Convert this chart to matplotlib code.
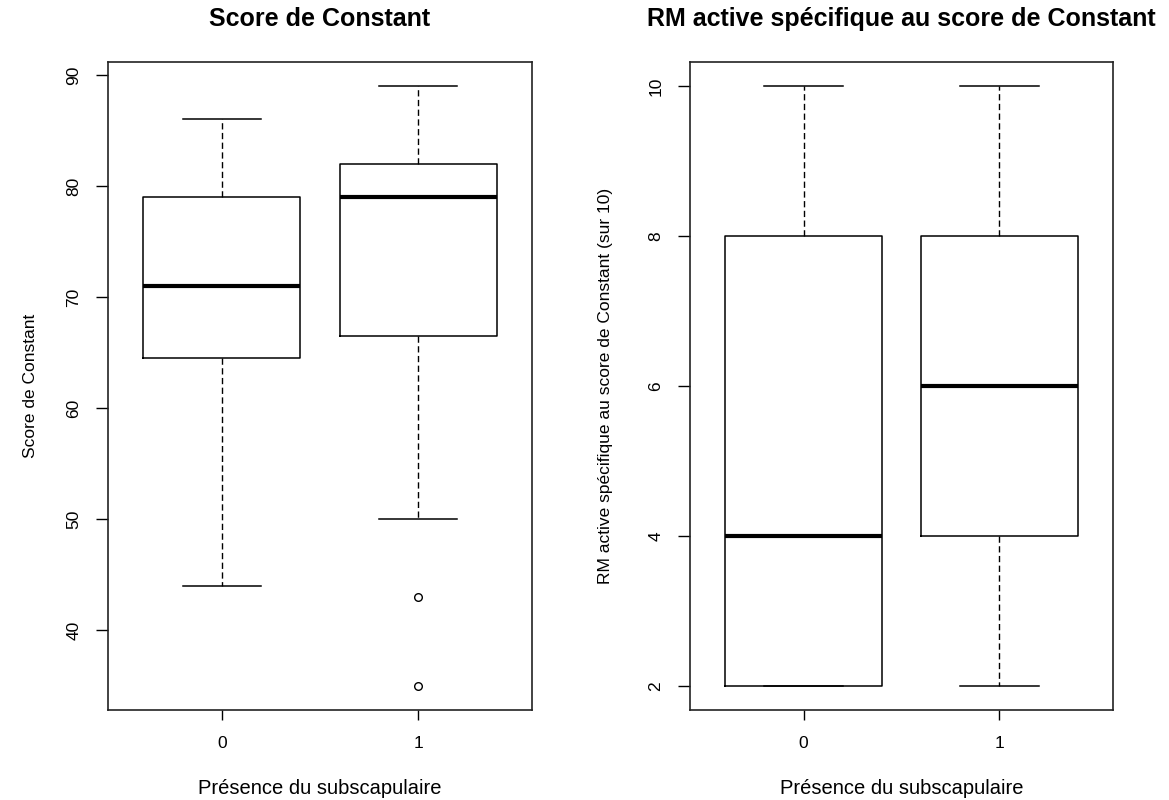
import matplotlib
matplotlib.use("Agg")
import matplotlib.pyplot as plt

plt.rcParams['font.family'] = ['Liberation Sans', 'DejaVu Sans']

# ---- data ----
groups = ["0", "1"]

# Score de Constant
constant_whislo = [44, 50]
constant_q1 = [64.5, 66.5]
constant_med = [71, 79]
constant_q3 = [79, 82]
constant_whishi = [86, 89]
constant_fliers = [[], [43, 35]]

# RM active spécifique au score de Constant (sur 10)
rm_whislo = [2, 2]
rm_q1 = [2, 4]
rm_med = [4, 6]
rm_q3 = [8, 8]
rm_whishi = [10, 10]
rm_fliers = [[], []]

titles = ["Score de Constant", "RM active spécifique au score de Constant"]
ylabels = ["Score de Constant", "RM active spécifique au score de Constant (sur 10)"]
xlabel = "Présence du subscapulaire"
yticks_list = [[40, 50, 60, 70, 80, 90], [2, 4, 6, 8, 10]]


def make_stats(lo, q1, med, q3, hi, fl):
    return [dict(whislo=lo[i], q1=q1[i], med=med[i], q3=q3[i], whishi=hi[i],
                 fliers=fl[i], label=groups[i]) for i in range(len(groups))]


stats_list = [
    make_stats(constant_whislo, constant_q1, constant_med, constant_q3, constant_whishi, constant_fliers),
    make_stats(rm_whislo, rm_q1, rm_med, rm_q3, rm_whishi, rm_fliers),
]

fig = plt.figure(figsize=(11.69, 8.0), dpi=100)
W, H = 1169, 800
ax_px = [(108, 62, 532, 710), (690, 62, 1113, 710)]
ylab_x = [-0.165, -0.182]

for k in range(2):
    x0, y0, x1, y1 = ax_px[k]
    ax = fig.add_axes([x0 / W, 1 - y1 / H, (x1 - x0) / W, (y1 - y0) / H])
    st = stats_list[k]
    ax.bxp(st, positions=[1, 2], widths=0.8, capwidths=0.4, showfliers=True,
           boxprops=dict(color='black', linewidth=1.1),
           whiskerprops=dict(color='black', linewidth=1.0, linestyle=(0, (4.5, 2.5))),
           capprops=dict(color='black', linewidth=1.1),
           medianprops=dict(color='black', linewidth=3.0, solid_capstyle='butt'),
           flierprops=dict(marker='o', markerfacecolor='none', markeredgecolor='black',
                           markersize=5.5, markeredgewidth=1.0, linestyle='none'))
    allvals = [s['whislo'] for s in st] + [s['whishi'] for s in st] + \
              [v for s in st for v in s['fliers']]
    lo, hi = min(allvals), max(allvals)
    rng = hi - lo
    ax.set_ylim(lo - 0.04 * rng, hi + 0.04 * rng)
    ax.set_xlim(0.42, 2.58)
    ax.set_xticks([1, 2])
    ax.set_xticklabels(groups, fontsize=12.5)
    ax.set_yticks(yticks_list[k])
    ax.set_yticklabels([str(v) for v in yticks_list[k]], fontsize=12.5,
                       rotation=90, va='center')
    ax.tick_params(axis='x', length=7.5, width=1.0, pad=11.5, color='black')
    ax.tick_params(axis='y', length=9, width=1.0, pad=10, color='black')
    for sp in ax.spines.values():
        sp.set_linewidth(1.2)
        sp.set_color('#222222')
    ax.set_title(titles[k], fontsize=18, fontweight='bold', pad=26)
    ax.set_xlabel(xlabel, fontsize=14.5)
    ax.xaxis.set_label_coords(0.5, -0.106)
    ax.set_ylabel(ylabels[k], fontsize=12.5)
    ax.yaxis.set_label_coords(ylab_x[k], 0.5)

fig.savefig("out.png", dpi=100, facecolor='white')
